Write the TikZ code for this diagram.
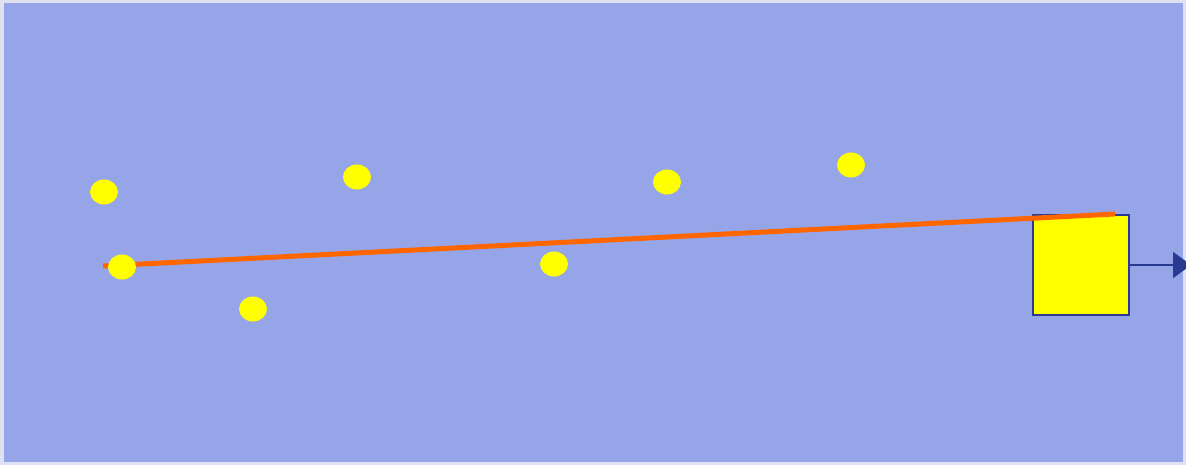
\documentclass[tikz,border=0pt]{standalone}
\usetikzlibrary{arrows.meta,shapes.geometric}
\definecolor{bgblue}{HTML}{95A5E8}
\definecolor{frame}{HTML}{DDE1F2}
\definecolor{dark}{HTML}{283A92}
\definecolor{orng}{HTML}{FF6600}
\definecolor{yel}{HTML}{FFFF00}
\tikzset{
  dot/.style={ellipse, fill=yel, inner sep=0pt, minimum width=28pt, minimum height=25pt},
  sq/.style={draw=dark, line width=1.5pt, fill=yel, minimum width=96pt, minimum height=100pt, inner sep=0pt},
}
\begin{document}
\begin{tikzpicture}[x=1pt,y=-1pt]
\useasboundingbox (0,0) rectangle (1186,465);
\fill[frame] (0,0) rectangle (1186,465);
\fill[bgblue] (4,3) rectangle (1183,462);
\node[sq] (box) at (1081,265) {};
\coordinate (s) at (103,266);
\coordinate (e) at (1115,214);
\coordinate (out) at (1191,265);
\draw[orng, line width=5pt] (s) -- (e);
\draw[dark, line width=2pt, -{Triangle[length=18pt,width=26pt]}] (box.east) -- (out);
\node[dot] (d1) at (104,192) {};
\node[dot] (d2) at (122,267) {};
\node[dot] (d3) at (253,309) {};
\node[dot] (d4) at (357,177) {};
\node[dot] (d5) at (554,264) {};
\node[dot] (d6) at (667,182) {};
\node[dot] (d7) at (851,165) {};
\end{tikzpicture}
\end{document}
